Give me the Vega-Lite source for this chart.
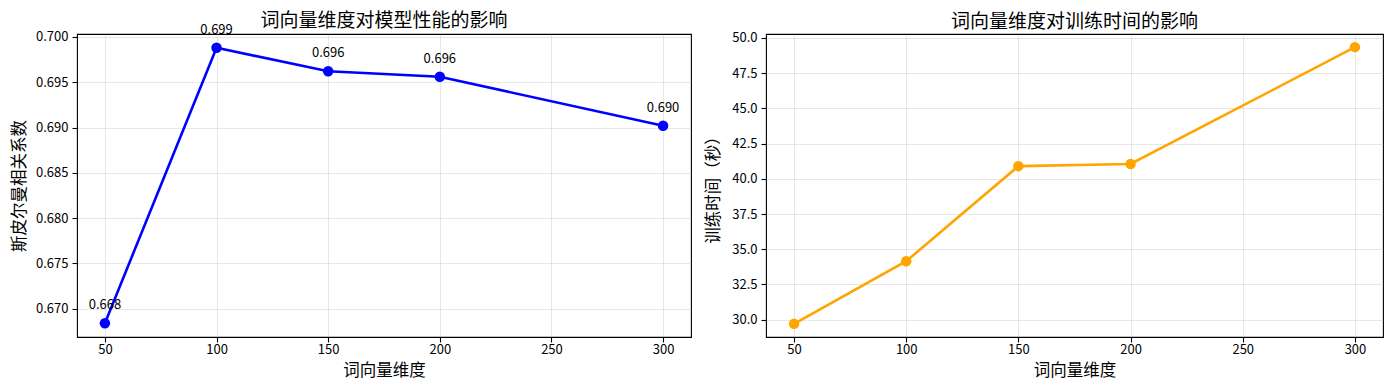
{
  "$schema": "https://vega.github.io/schema/vega-lite/v6.json",
  "padding": {"left": 10, "top": 11, "right": 6, "bottom": 2},
  "spacing": 75,
  "bounds": "flush",
  "background": "white",
  "config": {
    "font": "Noto Sans CJK SC",
    "view": {"stroke": "black", "strokeWidth": 1.1},
    "title": {"font": "Noto Sans CJK SC", "fontSize": 19, "fontWeight": "normal", "color": "black", "anchor": "middle"},
    "axis": {
      "labelFont": "Noto Sans CJK SC", "labelFontSize": 13, "labelColor": "black",
      "titleFont": "Noto Sans CJK SC", "titleFontSize": 16.5, "titleFontWeight": "normal", "titleColor": "black",
      "tickColor": "black", "tickSize": 5, "tickWidth": 1.1, "labelPadding": 4,
      "domain": false, "gridColor": "#b0b0b0", "gridOpacity": 0.3, "gridWidth": 1,
      "labelFlush": false, "labelOverlap": false
    }
  },
  "datasets": {
    "perf": [
      {"dim": 50, "score": 0.6684},
      {"dim": 100, "score": 0.6988},
      {"dim": 150, "score": 0.6962},
      {"dim": 200, "score": 0.6956},
      {"dim": 300, "score": 0.6902}
    ],
    "time": [
      {"dim": 50, "seconds": 29.7},
      {"dim": 100, "seconds": 34.15},
      {"dim": 150, "seconds": 40.9},
      {"dim": 200, "seconds": 41.05},
      {"dim": 300, "seconds": 49.35}
    ]
  },
  "hconcat": [
    {
      "title": {"text": "词向量维度对模型性能的影响", "offset": -7},
      "width": 614,
      "height": 303,
      "data": {"name": "perf"},
      "encoding": {
        "x": {"field": "dim", "type": "quantitative", "title": "词向量维度",
              "scale": {"domain": [37.5, 312.5], "nice": false, "zero": false},
              "axis": {"values": [50, 100, 150, 200, 250, 300], "labelPadding": 1, "titlePadding": 6}},
        "y": {"field": "score", "type": "quantitative", "title": "斯皮尔曼相关系数",
              "scale": {"domain": [0.66688, 0.70032], "nice": false, "zero": false},
              "axis": {"values": [0.670, 0.675, 0.680, 0.685, 0.690, 0.695, 0.700], "format": ".3f", "minExtent": 44, "maxExtent": 44, "titlePadding": 6}}
      },
      "layer": [
        {"mark": {"type": "line", "color": "#0000ff", "strokeWidth": 2.6}},
        {"mark": {"type": "point", "filled": true, "color": "#0000ff", "opacity": 1, "size": 110}},
        {"mark": {"type": "text", "dy": -14, "baseline": "alphabetic", "align": "center", "fontSize": 13, "color": "black"},
         "encoding": {"text": {"field": "score", "type": "quantitative", "format": ".3f"}}}
      ]
    },
    {
      "title": {"text": "词向量维度对训练时间的影响", "offset": 0},
      "width": 617,
      "height": 303,
      "data": {"name": "time"},
      "encoding": {
        "x": {"field": "dim", "type": "quantitative", "title": "词向量维度",
              "scale": {"domain": [37.5, 312.5], "nice": false, "zero": false},
              "axis": {"values": [50, 100, 150, 200, 250, 300], "labelPadding": 1, "titlePadding": 6}},
        "y": {"field": "seconds", "type": "quantitative", "title": "训练时间（秒）",
              "scale": {"domain": [28.7675, 50.2825], "nice": false, "zero": false},
              "axis": {"values": [30, 32.5, 35, 37.5, 40, 42.5, 45, 47.5, 50], "format": ".1f", "minExtent": 40, "maxExtent": 40, "titlePadding": 5}}
      },
      "layer": [
        {"mark": {"type": "line", "color": "#ffa500", "strokeWidth": 2.6}},
        {"mark": {"type": "point", "filled": true, "color": "#ffa500", "opacity": 1, "size": 110}}
      ]
    }
  ]
}
